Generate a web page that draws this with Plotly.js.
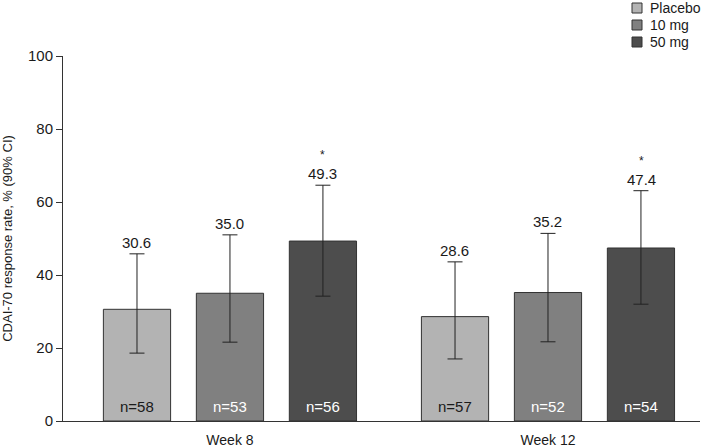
<!DOCTYPE html>
<html>
<head>
<meta charset="utf-8">
<script src="https://cdn.plot.ly/plotly-3.0.1.min.js"></script>
<style>html,body{margin:0;padding:0;background:#fff;}#chart{width:703px;height:448px;}</style>
</head>
<body>
<div id="chart"></div>
<script>
// ---- data ----
const groups = ['Week 8', 'Week 12'];
const seriesNames = ['Placebo', '10 mg', '50 mg'];
const placeboRate = [30.6, 28.6];
const placeboLow = [18.6, 17.0];
const placeboHigh = [45.8, 43.6];
const mg10Rate = [35.0, 35.2];
const mg10Low = [21.6, 21.7];
const mg10High = [51.0, 51.4];
const mg50Rate = [49.3, 47.4];
const mg50Low = [34.2, 32.0];
const mg50High = [64.6, 63.1];
const placeboN = [58, 57];
const mg10N = [53, 52];
const mg50N = [56, 54];
const placeboSig = [false, false];
const mg10Sig = [false, false];
const mg50Sig = [true, true];

// ---- styling ----
const FONT = 'Liberation Sans, Arial, sans-serif';
const fills = ['#b3b3b3', '#808080', '#4d4d4d'];
const nColors = ['#1a1a1a', '#ffffff', '#ffffff'];
const slot = 0.2925; // group slot spacing in category units

const rates = [placeboRate, mg10Rate, mg50Rate];
const lows = [placeboLow, mg10Low, mg50Low];
const highs = [placeboHigh, mg10High, mg50High];
const ns = [placeboN, mg10N, mg50N];
const sigs = [placeboSig, mg10Sig, mg50Sig];

const traces = seriesNames.map((name, s) => ({
  type: 'bar',
  name: name,
  x: groups,
  y: rates[s],
  marker: {color: fills[s], line: {color: '#333333', width: 1}},
  error_y: {
    type: 'data', symmetric: false,
    array: rates[s].map((v, i) => highs[s][i] - v),
    arrayminus: rates[s].map((v, i) => v - lows[s][i]),
    color: '#222222', thickness: 1, width: 7.5
  },
  hoverinfo: 'skip',
  showlegend: false
}));

const annotations = [];
seriesNames.forEach((name, s) => {
  groups.forEach((g, i) => {
    const xPos = i + (s - 1) * slot;
    annotations.push({
      x: xPos, y: highs[s][i], xref: 'x', yref: 'y',
      text: rates[s][i].toFixed(1), showarrow: false,
      yanchor: 'bottom', yshift: 1,
      font: {family: FONT, size: 15, color: '#1a1a1a'}
    });
    if (sigs[s][i]) {
      annotations.push({
        x: xPos, y: highs[s][i], xref: 'x', yref: 'y',
        text: '*', showarrow: false,
        yanchor: 'bottom', yshift: 21,
        font: {family: FONT, size: 12, color: '#1a1a1a'}
      });
    }
    annotations.push({
      x: xPos, y: 0, xref: 'x', yref: 'y',
      text: 'n=' + ns[s][i], showarrow: false,
      yanchor: 'bottom', yshift: 4,
      font: {family: FONT, size: 15, color: nColors[s]}
    });
  });
});

// manual legend (top right)
const shapes = [];
const W = 637, H = 365;
seriesNames.forEach((name, s) => {
  const cy = 8 + s * 17; // pixel row centre from top of page
  const py = (421 - cy) / H;
  shapes.push({
    type: 'rect', xref: 'paper', yref: 'paper',
    x0: (632 - 63) / W, x1: (642 - 63) / W,
    y0: py - 5 / H, y1: py + 5 / H,
    fillcolor: fills[s], line: {color: '#333333', width: 1}
  });
  annotations.push({
    x: (648 - 63) / W, y: py, xref: 'paper', yref: 'paper',
    xanchor: 'left', yanchor: 'middle', showarrow: false,
    text: name, font: {family: FONT, size: 14, color: '#1a1a1a'}
  });
});

const layout = {
  width: 703, height: 448,
  margin: {l: 63, r: 3, t: 56, b: 27},
  paper_bgcolor: '#ffffff', plot_bgcolor: '#ffffff',
  font: {family: FONT, color: '#1a1a1a'},
  barmode: 'group', bargap: 0.123, bargroupgap: 0.277,
  showlegend: false,
  xaxis: {
    type: 'category', range: [-0.525, 1.478],
    showline: true, linecolor: '#333333', linewidth: 1,
    showgrid: false, zeroline: false,
    ticks: 'outside', ticklen: 6, tickcolor: 'rgba(0,0,0,0)',
    tickfont: {family: FONT, size: 14, color: '#1a1a1a'},
    fixedrange: true
  },
  yaxis: {
    range: [0, 100], tickvals: [0, 20, 40, 60, 80, 100],
    showline: true, linecolor: '#333333', linewidth: 1,
    showgrid: false, zeroline: false,
    ticks: 'outside', ticklen: 6, tickcolor: '#333333',
    tickfont: {family: FONT, size: 15, color: '#1a1a1a'},
    title: {text: 'CDAI-70 response rate, % (90% CI)', standoff: 13,
            font: {family: FONT, size: 13, color: '#1a1a1a'}},
    fixedrange: true
  },
  annotations: annotations,
  shapes: shapes
};

Plotly.newPlot('chart', traces, layout, {displayModeBar: false, staticPlot: true});
</script>
</body>
</html>
